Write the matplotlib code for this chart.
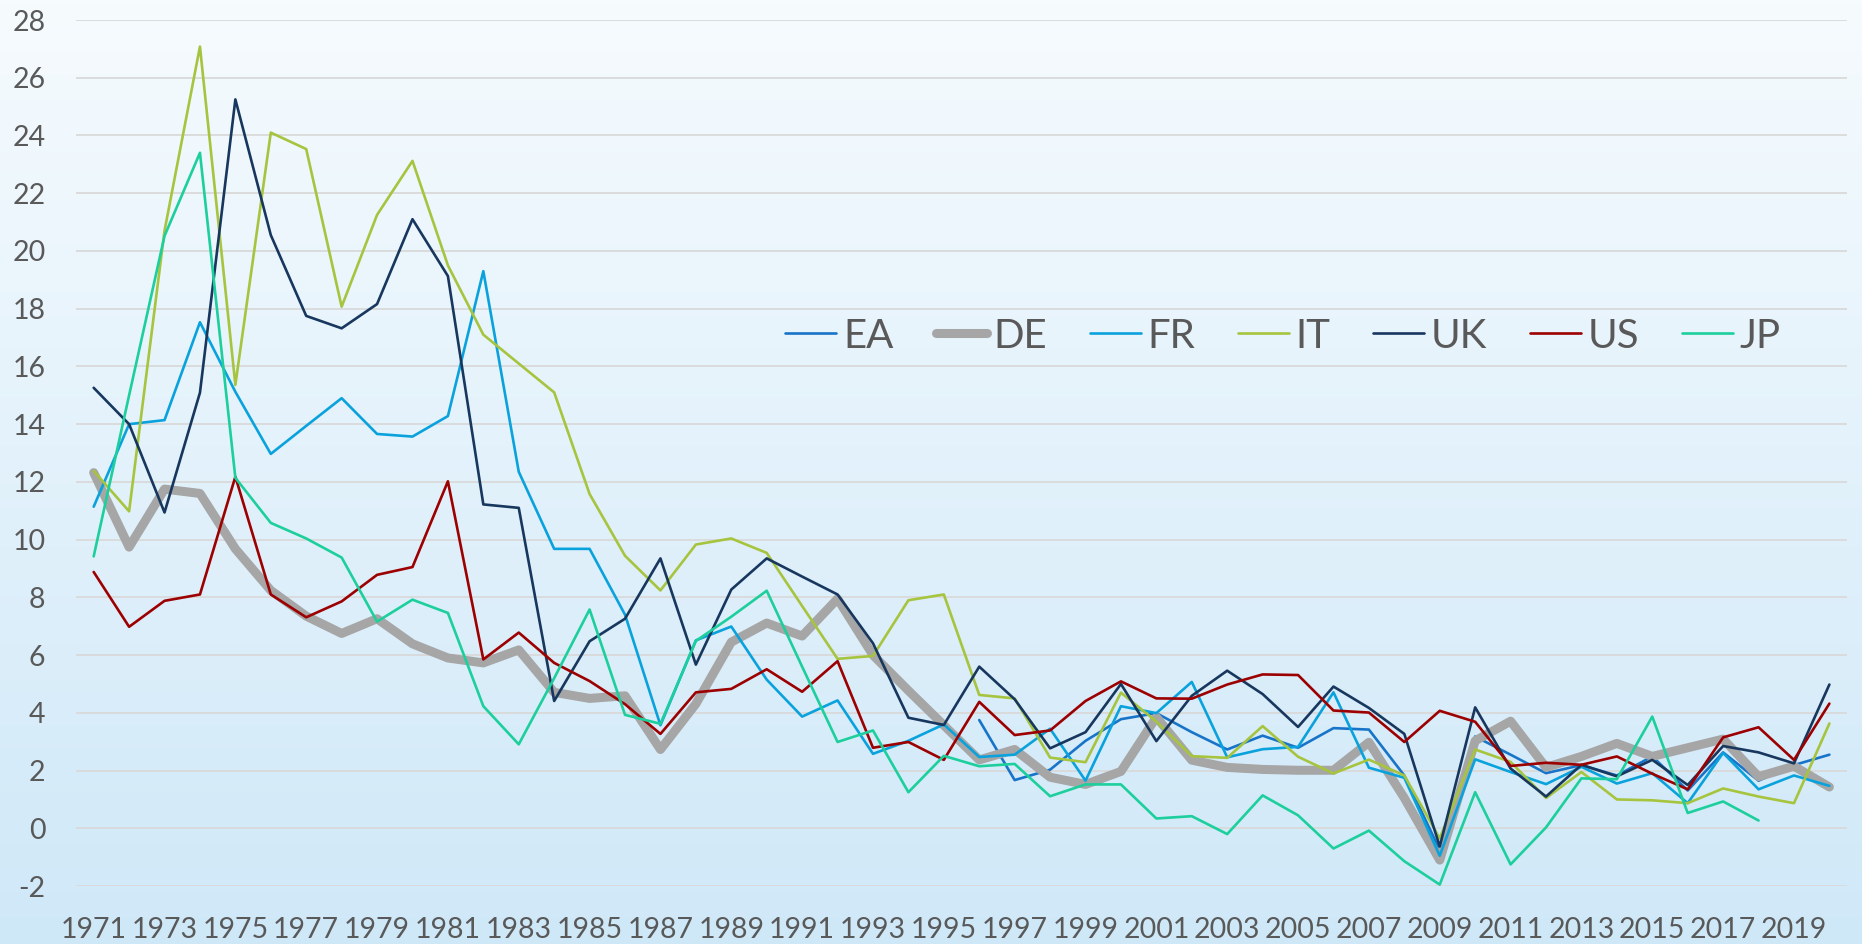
import numpy as np
import matplotlib.pyplot as plt
from matplotlib.colors import LinearSegmentedColormap

nan = np.nan
years = list(range(1971, 2021))

# values, 1971-2020
EA = [nan] * 25 + [
    3.75, 1.67, 2.03, 3.03, 3.78, 3.99, 3.33, 2.73, 3.21, 2.79, 3.47, 3.42, 1.83,
    -0.75, 3.18, 2.55, 1.91, 2.19, 1.83, 2.49, 1.31, 2.63, 1.65, 2.19, 2.55]
DE = [12.32, 9.74, 11.75, 11.6, 9.68, 8.24, 7.35, 6.75, 7.26, 6.39,
      5.9, 5.73, 6.18, 4.71, 4.5, 4.59, 2.73, 4.31, 6.45, 7.11,
      6.66, 7.95, 6.0, 4.77, 3.57, 2.37, 2.73, 1.77, 1.52, 1.97,
      3.85, 2.36, 2.11, 2.04, 2.01, 2.01, 2.98, 1.05, -1.1, 3.03,
      3.71, 2.11, 2.49, 2.94, 2.49, 2.79, 3.09, 1.79, 2.15, 1.43]
FR = [11.14, 14.0, 14.14, 17.53, 15.12, 12.97, 13.94, 14.9, 13.66, 13.57,
      14.28, 19.3, 12.35, 9.68, 9.68, 7.4, 3.57, 6.51, 6.99, 5.15,
      3.87, 4.43, 2.58, 3.03, 3.6, 2.47, 2.55, 3.45, 1.65, 4.23,
      3.99, 5.07, 2.46, 2.74, 2.82, 4.71, 2.1, 1.75, -0.95, 2.39,
      1.95, 1.53, 2.13, 1.55, 1.91, 0.87, 2.61, 1.35, 1.83, 1.47]
IT = [12.38, 10.98, 20.7, 27.08, 15.36, 24.1, 23.53, 18.07, 21.25, 23.12,
      19.5, 17.1, 16.1, 15.1, 11.58, 9.44, 8.24, 9.83, 10.04, 9.54,
      7.7, 5.87, 5.97, 7.9, 8.1, 4.62, 4.5, 2.45, 2.29, 4.7,
      3.7, 2.5, 2.44, 3.54, 2.48, 1.9, 2.38, 1.83, -0.35, 2.73,
      2.3, 1.05, 1.95, 1.0, 0.97, 0.87, 1.38, 1.1, 0.87, 3.63]
UK = [15.26, 14.0, 10.94, 15.09, 25.25, 20.55, 17.75, 17.32, 18.16, 21.1,
      19.13, 11.22, 11.1, 4.41, 6.48, 7.26, 9.35, 5.67, 8.27, 9.35,
      8.72, 8.1, 6.41, 3.83, 3.58, 5.6, 4.47, 2.77, 3.33, 5.0,
      3.02, 4.59, 5.46, 4.65, 3.51, 4.91, 4.17, 3.27, -0.63, 4.19,
      2.07, 1.1, 2.2, 1.8, 2.37, 1.5, 2.85, 2.63, 2.25, 4.98]
US = [8.88, 6.98, 7.88, 8.1, 12.18, 8.1, 7.31, 7.86, 8.78, 9.05,
      12.02, 5.85, 6.78, 5.73, 5.1, 4.3, 3.27, 4.71, 4.83, 5.51,
      4.73, 5.79, 2.79, 2.99, 2.37, 4.38, 3.23, 3.39, 4.41, 5.09,
      4.5, 4.49, 4.98, 5.33, 5.31, 4.08, 4.01, 2.99, 4.07, 3.69,
      2.16, 2.27, 2.2, 2.49, 1.89, 1.35, 3.15, 3.5, 2.37, 4.32]
JP = [9.42, 15.0, 20.52, 23.4, 12.14, 10.58, 10.04, 9.38, 7.16, 7.92,
      7.46, 4.23, 2.91, 5.2, 7.58, 3.93, 3.62, 6.49, 7.33, 8.23,
      5.6, 2.99, 3.39, 1.25, 2.51, 2.15, 2.23, 1.11, 1.52, 1.52,
      0.34, 0.42, -0.2, 1.14, 0.45, -0.7, -0.08, -1.14, -1.95, 1.25,
      -1.25, 0.03, 1.73, 1.7, 3.87, 0.53, 0.93, 0.27, nan, nan]

series = [('EA', EA, '#1874c8', 1.9),
          ('DE', DE, '#a6a6a6', 6.5),
          ('FR', FR, '#0aa2dc', 1.9),
          ('IT', IT, '#a6c43e', 1.9),
          ('UK', UK, '#17375e', 1.9),
          ('US', US, '#9c0000', 1.9),
          ('JP', JP, '#1ccf9c', 1.9)]

plt.rcParams['font.family'] = ['Lato', 'DejaVu Sans']
plt.rcParams['axes.unicode_minus'] = False

fig = plt.figure(figsize=(18.62, 9.44), dpi=100)

# background gradient, white-ish at top to light blue at bottom
bg = fig.add_axes([0, 0, 1, 1], zorder=-1)
cmap = LinearSegmentedColormap.from_list('bg', ['#cfe8f8', '#f6fbfe'])
bg.imshow(np.linspace(0, 1, 256).reshape(-1, 1), aspect='auto', cmap=cmap,
          origin='lower', extent=[0, 1, 0, 1])
bg.axis('off')

ax = fig.add_axes([0.0408, 0.0614, 0.9512, 0.9174])
ax.patch.set_alpha(0)

for name, vals, col, lw in series:
    ax.plot(years, vals, color=col, lw=lw, label=name,
            solid_capstyle='round', solid_joinstyle='round')

ax.set_xlim(1970.5, 2020.5)
ax.set_ylim(-2, 28)
ax.set_yticks(range(-2, 29, 2))
ax.set_xticks(years[::2])
ax.grid(axis='y', color='#d9d9d9', lw=1.3)
ax.set_axisbelow(True)
for s in ax.spines.values():
    s.set_visible(False)
ax.tick_params(length=0, labelsize=20.5, colors='#595959')
ax.tick_params(axis='y', pad=22)
ax.tick_params(axis='x', pad=22)

leg = ax.legend(ncol=7, frameon=False, loc='center', fontsize=29,
                bbox_to_anchor=(0.689, 0.644), bbox_transform=fig.transFigure,
                handlelength=1.27, handletextpad=0.17, columnspacing=1.05)
for t in leg.get_texts():
    t.set_color('#595959')

plt.savefig('out.png', dpi=100)
